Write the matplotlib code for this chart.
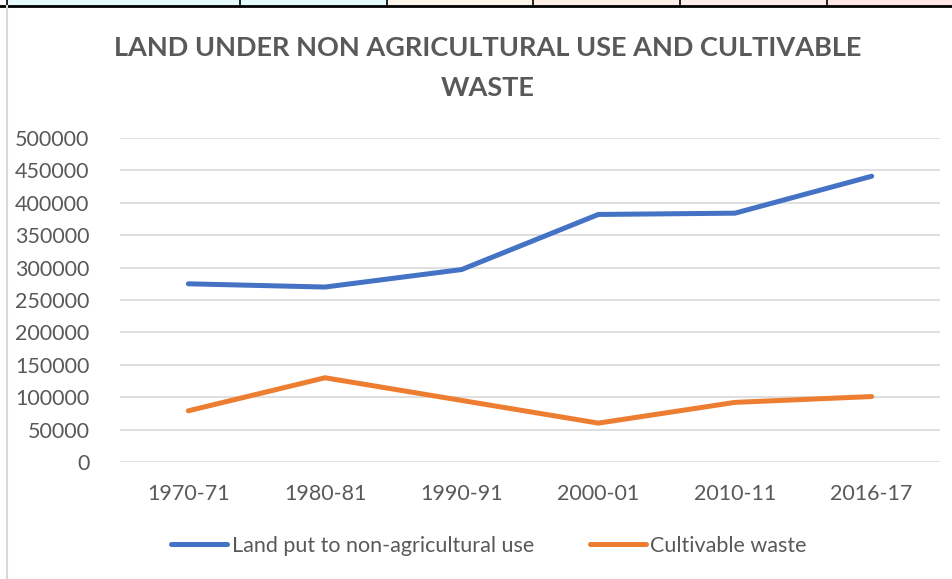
import matplotlib.pyplot as plt
from matplotlib.patches import Rectangle
from matplotlib.lines import Line2D

years = ['1970-71', '1980-81', '1990-91', '2000-01', '2010-11', '2016-17']
non_agri = [275000, 270000, 297000, 382000, 384000, 441000]
cult_waste = [79000, 130000, 95000, 60000, 92000, 101000]

plt.rcParams['font.family'] = ['Lato', 'DejaVu Sans']
GREY = '#595959'

fig = plt.figure(figsize=(9.53, 5.79), dpi=100)

# bits of the table above the chart
strip = ['#d8f8fb', '#d6f9fb', '#fdf0e0', '#fde8dc', '#fde4e0', '#fddcd6']
edges = [7, 240, 387, 533, 680, 827, 953]
for i, c in enumerate(strip):
    fig.patches.append(Rectangle((edges[i] / 953, 1 - 5 / 579), (edges[i + 1] - edges[i]) / 953, 5 / 579,
                                 transform=fig.transFigure, color=c, alpha=0.6, zorder=0))
    fig.add_artist(Line2D([edges[i] / 953] * 2, [1 - 6 / 579, 1], color='black', lw=1.2))
fig.add_artist(Line2D([0, 1], [1 - 6 / 579] * 2, color='black', lw=2))
# chart frame
fig.add_artist(Line2D([7 / 953] * 2, [0, 1 - 6 / 579], color='#d9d9d9', lw=1.5))

ax = fig.add_axes([120 / 953, 1 - 462 / 579, 820 / 953, 324 / 579])
x = range(len(years))
ax.plot(x, non_agri, color='#4472c4', lw=3.6, solid_capstyle='round', solid_joinstyle='round',
        label='Land put to non-agricultural use')
ax.plot(x, cult_waste, color='#ed7d31', lw=3.6, solid_capstyle='round', solid_joinstyle='round',
        label='Cultivable waste')

ax.set_xlim(-0.5, len(years) - 0.5)
ax.set_ylim(0, 500000)
ax.set_yticks(range(0, 500001, 50000))
ax.set_yticklabels([str(v) for v in range(0, 500001, 50000)])
ax.set_xticks(list(x))
ax.set_xticklabels(years)
ax.tick_params(colors=GREY, labelsize=15.5, length=0)
ax.tick_params(axis='y', pad=22)
ax.tick_params(axis='x', pad=16)
ax.grid(axis='y', color='#d9d9d9', lw=1.2)
ax.set_axisbelow(True)
for s in ax.spines.values():
    s.set_visible(False)

fig.text(488 / 953, 1 - 48 / 579, 'LAND UNDER NON AGRICULTURAL USE AND CULTIVABLE', ha='center', va='center',
         fontsize=19.5, fontweight='bold', color=GREY)
fig.text(488 / 953, 1 - 88 / 579, 'WASTE', ha='center', va='center',
         fontsize=19.5, fontweight='bold', color=GREY)

fig.legend(loc='center', bbox_to_anchor=(489 / 953, 1 - 546 / 579), ncol=2, frameon=False,
           fontsize=15.5, labelcolor=GREY, handlelength=2.6, handletextpad=0.2, columnspacing=2.6)

fig.savefig('out.png', dpi=100)
